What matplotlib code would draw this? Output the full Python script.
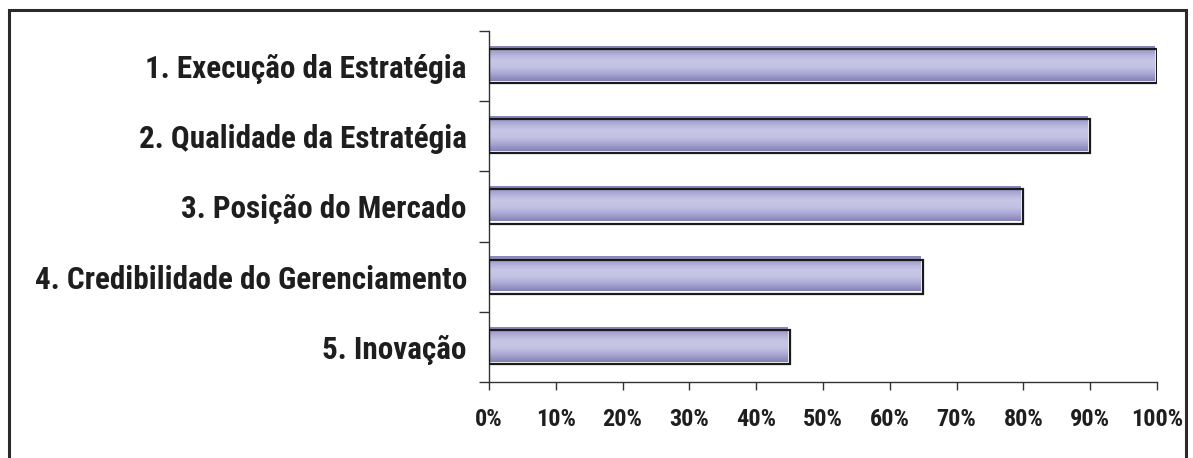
import matplotlib.pyplot as plt
import matplotlib.transforms as mtransforms
import numpy as np
from matplotlib.colors import LinearSegmentedColormap
from matplotlib.patches import Rectangle
from matplotlib.ticker import FixedLocator, PercentFormatter

categories = [
    "1. Execução da Estratégia",
    "2. Qualidade da Estratégia",
    "3. Posição do Mercado",
    "4. Credibilidade do Gerenciamento",
    "5. Inovação",
]
values = [100, 90, 80, 65, 45]
x_ticks = [0, 10, 20, 30, 40, 50, 60, 70, 80, 90, 100]

# Arial Narrow Bold look-alike
plt.rcParams["font.family"] = ["Roboto Condensed", "DejaVu Sans"]
plt.rcParams["font.weight"] = "bold"

fig = plt.figure(figsize=(11.93, 4.58), dpi=100)
ax = fig.add_axes([489 / 1193, 1 - 382 / 458, (1157 - 489) / 1193, (382 - 31) / 458])

# outer frame (bottom edge falls outside the picture)
fig.patches.append(Rectangle((9 / 1193, -0.05), (1186 - 9) / 1193, 1.05 - 10 / 458,
                             transform=fig.transFigure, fill=False,
                             edgecolor="#2a2a2a", linewidth=2.2))

grad = LinearSegmentedColormap.from_list(
    "lav", ["#8686b8", "#aeacd6", "#c8c6e6", "#c4c2e3", "#a8a6d2", "#8282b4"])
column = np.linspace(0, 1, 64).reshape(-1, 1)

shift = mtransforms.ScaledTranslation(-2.5 / 100, 2.5 / 100, fig.dpi_scale_trans)
bar_h = 0.49
for i, v in enumerate(values):
    ax.imshow(column, cmap=grad, aspect="auto", interpolation="bilinear",
              extent=(0, v, i + bar_h / 2, i - bar_h / 2),
              transform=ax.transData + shift, zorder=2)
    ax.add_patch(Rectangle((0, i - bar_h / 2), v, bar_h, fill=False,
                           edgecolor="#1a1a1a", linewidth=1.6, zorder=3))

ax.set_xlim(0, 100)
ax.set_ylim(len(categories) - 0.5, -0.5)

ax.set_xticks(x_ticks)
ax.xaxis.set_major_formatter(PercentFormatter(decimals=0))
ax.set_yticks(range(len(categories)))
ax.set_yticklabels(categories)
ax.yaxis.set_minor_locator(FixedLocator(np.arange(-0.5, len(categories), 1.0)))

ax.tick_params(axis="y", which="major", length=0, pad=16, labelsize=22.4, labelcolor="#1e1e1e")
ax.tick_params(axis="y", which="minor", length=7, width=1, color="#333333")
ax.tick_params(axis="x", which="major", length=6, width=1, color="#333333",
               pad=13, labelsize=17.5, labelcolor="#1e1e1e")

for side in ("top", "right"):
    ax.spines[side].set_visible(False)
for side in ("left", "bottom"):
    ax.spines[side].set_color("#333333")
    ax.spines[side].set_linewidth(1)

fig.savefig("out.png", dpi=100)
